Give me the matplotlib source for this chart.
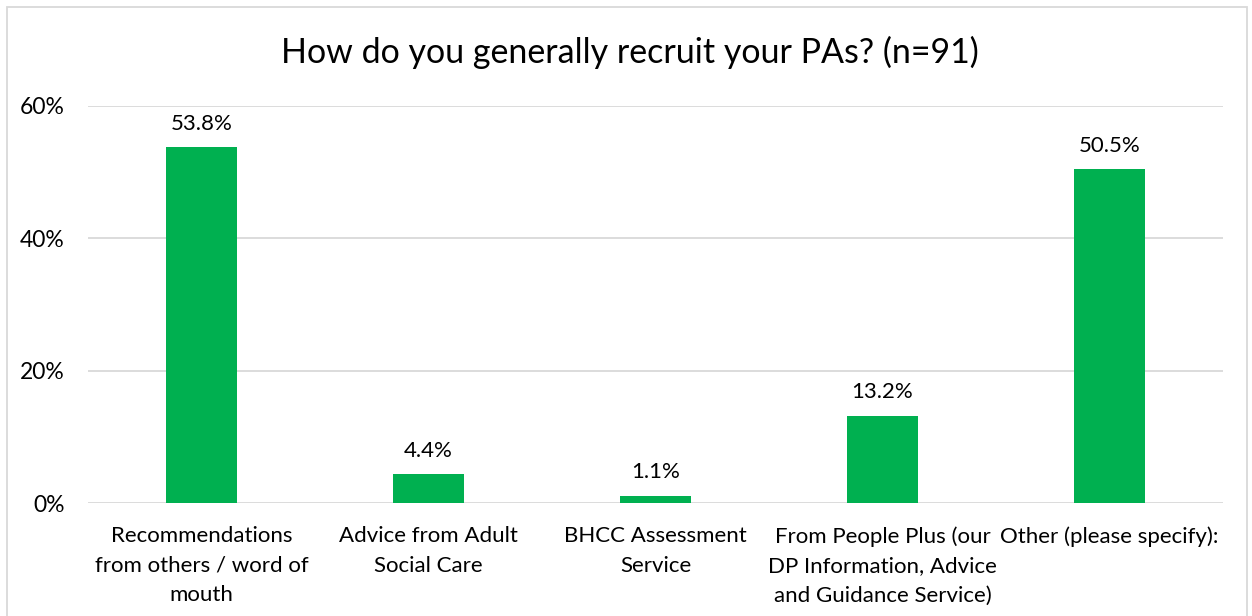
import matplotlib.pyplot as plt
from matplotlib.patches import Rectangle
from matplotlib.ticker import FuncFormatter

categories = [
    "Recommendations\nfrom others / word of\nmouth",
    "Advice from Adult\nSocial Care",
    "BHCC Assessment\nService",
    "From People Plus (our\nDP Information, Advice\nand Guidance Service)",
    "Other (please specify):",
]
values = [53.8, 4.4, 1.1, 13.2, 50.5]
yticks = [0, 20, 40, 60]
title = "How do you generally recruit your PAs? (n=91)"

plt.rcParams['font.family'] = ['Lato', 'DejaVu Sans']

W, H = 1252, 616
fig = plt.figure(figsize=(W / 100, H / 100), dpi=100)
ax = fig.add_axes([88 / W, 1 - 503 / H, (1223 - 88) / W, (503 - 106) / H])

x = range(len(categories))
bars = ax.bar(x, values, width=0.317, color="#00B050", zorder=3)
for b, v in zip(bars, values):
    ax.text(b.get_x() + b.get_width() / 2, v + 2.0, f"{v:.1f}%",
            ha="center", va="bottom", fontsize=16, color="#000000")

ax.set_xlim(-0.5, len(categories) - 0.5)
ax.set_ylim(0, 60)
ax.set_yticks(yticks)
ax.yaxis.set_major_formatter(FuncFormatter(lambda v, _: f"{v:.0f}%"))
ax.set_xticks(list(x))
ax.set_xticklabels(categories, fontsize=16, linespacing=1.6)
ax.tick_params(axis="y", labelsize=16.5, length=0, pad=17)
ax.tick_params(axis="x", length=0, pad=16.5)
ax.grid(axis="y", color="#D9D9D9", linewidth=1.3, zorder=0)
for s in ax.spines.values():
    s.set_visible(False)
for lbl in ax.get_xticklabels() + ax.get_yticklabels():
    lbl.set_color("#000000")

fig.text(630 / W, 1 - 52 / H, title, ha="center", va="center", fontsize=24.5)

# light outer frame
fig.patches.append(Rectangle((7 / W, -0.05), (1247 - 7) / W, 1 - 7 / H + 0.05,
                             transform=fig.transFigure, fill=False,
                             edgecolor="#D9D9D9", linewidth=1.3))

fig.savefig("out.png", dpi=100)
